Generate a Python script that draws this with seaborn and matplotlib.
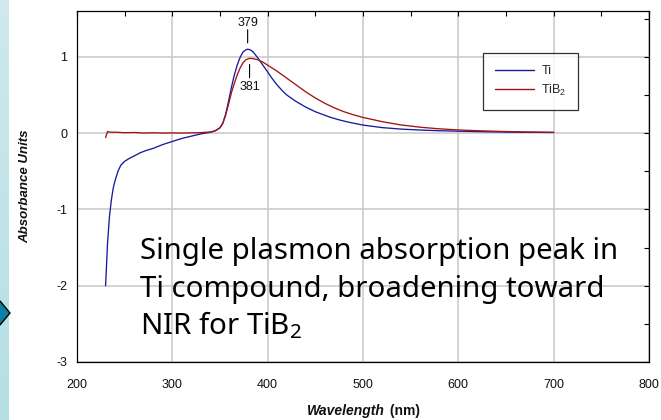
import numpy as np
import pandas as pd
import matplotlib
matplotlib.use("Agg")
import matplotlib.pyplot as plt
from matplotlib.patches import Polygon
from matplotlib.ticker import MultipleLocator
import seaborn as sns

# Absorbance spectra (wavelength in nm, absorbance units)
ti_nm = [230, 232, 234, 236, 238, 240, 243, 246, 250, 255, 260, 266, 272, 280,
         290, 300, 310, 320, 330, 340, 345, 350, 353, 356, 359, 362, 365, 368,
         371, 374, 377, 379, 382, 385, 390, 395, 400, 405, 410, 415, 420, 429,
         440, 450, 465, 476, 486, 500, 520, 540, 560, 580, 600, 625, 650, 675, 700]
ti_abs = [-2.00, -1.45, -1.10, -0.88, -0.72, -0.62, -0.50, -0.42, -0.37, -0.33,
          -0.30, -0.26, -0.23, -0.20, -0.15, -0.11, -0.07, -0.04, -0.01, 0.01,
          0.03, 0.07, 0.13, 0.25, 0.42, 0.60, 0.76, 0.89, 0.99, 1.06, 1.09, 1.10,
          1.09, 1.06, 0.98, 0.89, 0.80, 0.71, 0.63, 0.56, 0.50, 0.42, 0.34, 0.28,
          0.21, 0.17, 0.14, 0.105, 0.072, 0.052, 0.04, 0.031, 0.025, 0.018, 0.013,
          0.010, 0.008]

tib2_nm = [230, 232, 236, 240, 250, 260, 270, 280, 290, 300, 310, 320, 330, 340,
           345, 350, 353, 356, 359, 362, 365, 368, 371, 374, 377, 381, 385, 390,
           395, 400, 410, 420, 430, 440, 450, 460, 470, 480, 490, 500, 520, 539,
           560, 580, 600, 625, 650, 675, 700]
tib2_abs = [-0.06, 0.02, 0.01, 0.012, 0.005, 0.008, 0.0, 0.004, 0.0, 0.002, 0.0,
            0.003, 0.006, 0.015, 0.03, 0.07, 0.13, 0.24, 0.38, 0.53, 0.65, 0.76,
            0.85, 0.92, 0.96, 0.98, 0.975, 0.96, 0.93, 0.89, 0.81, 0.72, 0.63,
            0.54, 0.46, 0.39, 0.33, 0.28, 0.24, 0.205, 0.15, 0.108, 0.077, 0.056,
            0.041, 0.029, 0.02, 0.014, 0.01]

series_names = ["Ti", "TiB$_2$"]
series_colors = ["#1a1a9e", "#a01414"]
x_ticks = [200, 300, 400, 500, 600, 700, 800]
y_ticks = [-3, -2, -1, 0, 1]
y_label = "Absorbance Units"
x_label_main = "Wavelength"
x_label_unit = " (nm)"
caption_lines = ["Single plasmon absorption peak in",
                 "Ti compound, broadening toward",
                 "NIR for TiB$_2$"]

sns.set_theme(style="white")
plt.rcParams["font.family"] = ["Liberation Sans", "DejaVu Sans"]
plt.rcParams["mathtext.default"] = "regular"
plt.rcParams["axes.unicode_minus"] = False

W, H = 661, 420
fig = plt.figure(figsize=(W / 100, H / 100), dpi=100)
fig.patch.set_facecolor("white")

# slide-side decoration strip with bullet
strip = fig.add_axes([0, 0, 9 / W, 1])
grad = np.linspace(0, 1, 256).reshape(-1, 1)
strip.imshow(grad, aspect="auto", cmap=matplotlib.colors.LinearSegmentedColormap.from_list(
    "strip", ["#cfe9ec", "#b4dfe4"]), origin="upper")
strip.set_axis_off()
diamond = Polygon([(-12 / W, 1 - 313 / H), (0, 1 - 301 / H), (10 / W, 1 - 313 / H),
                   (0, 1 - 325 / H)], closed=True, transform=fig.transFigure,
                  facecolor="#0b7fa6", edgecolor="black", lw=1.0)
fig.add_artist(diamond)

ax = fig.add_axes([77 / W, (H - 362) / H, 572 / W, 351 / H])

df = pd.concat([
    pd.DataFrame({"wavelength": ti_nm, "absorbance": ti_abs, "sample": series_names[0]}),
    pd.DataFrame({"wavelength": tib2_nm, "absorbance": tib2_abs, "sample": series_names[1]}),
])
sns.lineplot(data=df, x="wavelength", y="absorbance", hue="sample",
             palette=dict(zip(series_names, series_colors)), estimator=None,
             lw=0.95, ax=ax, legend=False)

ax.set_xlim(x_ticks[0], x_ticks[-1])
ax.set_ylim(y_ticks[0], 1.6)
ax.set_xticks(x_ticks)
ax.set_yticks(y_ticks)
ax.xaxis.set_minor_locator(MultipleLocator(50))
ax.yaxis.set_minor_locator(MultipleLocator(0.5))
ax.grid(True, which="major", color="#c8c8c8", lw=1.1)
ax.set_axisbelow(True)
for s in ax.spines.values():
    s.set_color("black")
    s.set_linewidth(0.9)
ax.tick_params(which="both", direction="in", top=True, right=True,
               length=3.5, width=0.8, colors="black", labelsize=9,
               labelcolor="#111111")
ax.tick_params(axis="x", pad=12)
ax.tick_params(axis="y", pad=7)
ax.set_xlabel("")
ax.set_ylabel("")

# legend
handles = ax.get_lines()[:2]
leg = ax.legend(handles, series_names, loc="upper left",
                bbox_to_anchor=(0.71, 0.88), frameon=True, fancybox=False,
                fontsize=9, handlelength=3.1, handletextpad=0.6,
                borderpad=0.95, labelspacing=0.45, borderaxespad=0)
leg.get_frame().set_edgecolor("black")
leg.get_frame().set_linewidth(0.9)
for ln in leg.get_lines():
    ln.set_linewidth(1.0)

# peak markers
ti_i = int(np.argmax(ti_abs))
tib2_i = int(np.argmax(tib2_abs))
for nm_vals, ab_vals, i, up in [(ti_nm, ti_abs, ti_i, True), (tib2_nm, tib2_abs, tib2_i, False)]:
    px, py = nm_vals[i], ab_vals[i]
    sgn = 1 if up else -1
    ax.annotate("", xy=(px, py), xytext=(0, sgn * 14), textcoords="offset points",
                arrowprops=dict(arrowstyle="-", color="black", lw=0.8,
                                shrinkA=0, shrinkB=4.5))
    ax.annotate(f"{px}", xy=(px, py), xytext=(0, sgn * (19 if up else 21)),
                textcoords="offset points", ha="center", va="center",
                fontsize=9, color="#111111")

# axis titles
fig.text(25 / W, 1 - 186 / H, y_label, rotation=90, ha="center", va="center",
         fontsize=9.5, fontweight="bold", fontstyle="italic", color="#111111")
fig.canvas.draw()
r = fig.canvas.get_renderer()
t1 = fig.text(0, 1 - 411 / H, x_label_main, ha="left", va="center", fontsize=10,
              fontweight="bold", fontstyle="italic", color="#111111")
t2 = fig.text(0, 1 - 411 / H, x_label_unit, ha="left", va="center", fontsize=10,
              fontweight="bold", color="#111111")
w1 = t1.get_window_extent(r).width
w2 = t2.get_window_extent(r).width
x0 = (77 + 572 / 2) - (w1 + w2) / 2
t1.set_x(x0 / W)
t2.set_x((x0 + w1 + 1) / W)

# caption block
cap_font = ["Noto Sans", "DejaVu Sans"]
probe = fig.text(0, 0, caption_lines[0], fontsize=22, family=cap_font)
wp = probe.get_window_extent(r).width
probe.remove()
cap_size = 22 * 478 / wp
for k, line in enumerate(caption_lines):
    fig.text(140 / W, 1 - (259 + 37.5 * k) / H, line, ha="left", va="baseline",
             fontsize=cap_size, family=cap_font, color="black")

fig.savefig("out.png", dpi=100, facecolor="white")
